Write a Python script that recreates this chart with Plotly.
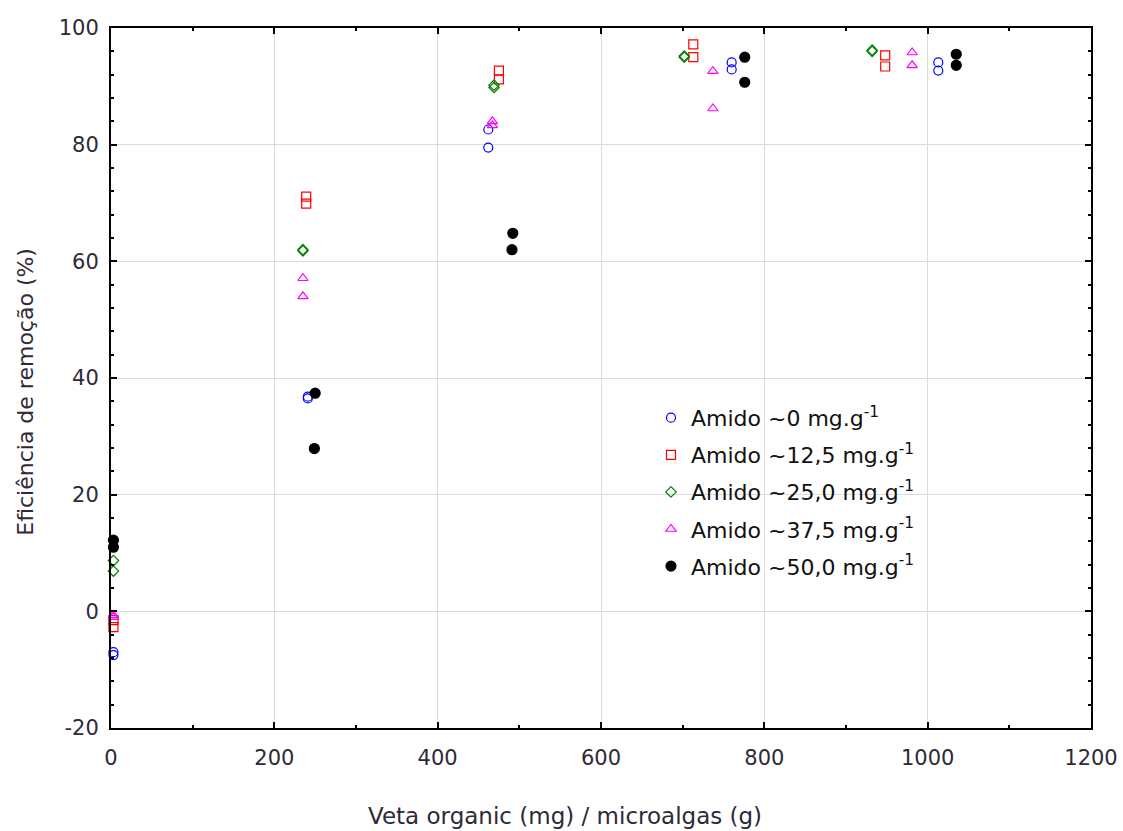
import plotly.graph_objects as go

# Veta organic load per gram of microalgae (mg/g) and removal efficiency (%)
series_names = [
    "Amido ~0 mg.g<sup>-1</sup>",
    "Amido ~12,5 mg.g<sup>-1</sup>",
    "Amido ~25,0 mg.g<sup>-1</sup>",
    "Amido ~37,5 mg.g<sup>-1</sup>",
    "Amido ~50,0 mg.g<sup>-1</sup>",
]

x_amido_0 = [3, 3, 241, 241, 462, 462, 760, 760, 1013, 1013]
y_amido_0 = [-7.5, -7.0, 36.5, 36.8, 82.6, 79.5, 94.1, 92.9, 94.1, 92.7]

x_amido_12 = [3, 3, 239, 239, 475, 475, 713, 713, 948, 948]
y_amido_12 = [-1.5, -2.7, 71.1, 69.9, 92.7, 91.2, 97.2, 95.0, 95.3, 93.4]

x_amido_25 = [3, 3, 235, 235, 469, 469, 702, 702, 932, 932]
y_amido_25 = [8.7, 6.9, 62.0, 61.8, 89.8, 90.2, 95.0, 95.2, 96.2, 96.0]

x_amido_37 = [3, 3, 235, 235, 467, 467, 737, 737, 981, 981]
y_amido_37 = [-0.7, -1.0, 57.1, 54.0, 83.3, 84.0, 92.6, 86.2, 95.8, 93.6]

x_amido_50 = [3, 3, 250, 249, 492, 491, 776, 776, 1035, 1035]
y_amido_50 = [12.2, 11.0, 37.4, 27.9, 64.8, 62.0, 95.0, 90.7, 95.5, 93.6]

x_ticks = [0, 200, 400, 600, 800, 1000, 1200]
y_ticks = [-20, 0, 20, 40, 60, 80, 100]

x_title = "Veta organic (mg) / microalgas (g)"
y_title = "Eficiência de remoção (%)"

styles = [
    dict(symbol="circle-open", color="#0000ff", size=9),
    dict(symbol="square-open", color="#ff0000", size=9),
    dict(symbol="diamond-open", color="#008000", size=8),
    dict(symbol="triangle-up-open", color="#ff00ff", size=9),
    dict(symbol="circle", color="#000000", size=10),
]

xs = [x_amido_0, x_amido_12, x_amido_25, x_amido_37, x_amido_50]
ys = [y_amido_0, y_amido_12, y_amido_25, y_amido_37, y_amido_50]

fig = go.Figure()
for i, (name, x, y, st) in enumerate(zip(series_names, xs, ys, styles)):
    fig.add_trace(go.Scatter(
        x=x, y=y, mode="markers", name=name, cliponaxis=False,
        legendgroup=f"g{i}",
        marker=dict(symbol=st["symbol"], size=st["size"], color=st["color"],
                    line=dict(color=st["color"], width=1.2)),
    ))

font_family = "DejaVu Sans, Verdana, sans-serif"
tick_color = "#2e2a38"

axis_common = dict(
    showline=True, linecolor="#000000", linewidth=2, mirror="ticks",
    showgrid=True, gridcolor="#dcdcdc", gridwidth=1, zeroline=False,
    ticks="inside", ticklen=6, tickwidth=2, tickcolor="#000000",
    tickfont=dict(family=font_family, size=21, color=tick_color),
    automargin=False,
)

fig.update_xaxes(
    range=[0, 1200], tickvals=x_ticks, ticktext=[str(v) for v in x_ticks],
    ticklabelstandoff=10,
    minor=dict(dtick=100, ticks="inside", ticklen=3, tickwidth=2,
               tickcolor="#000000", showgrid=False),
    **axis_common,
)
fig.update_yaxes(
    range=[-20, 100], tickvals=y_ticks, ticktext=[str(v) for v in y_ticks],
    ticklabelstandoff=6,
    minor=dict(dtick=4, tick0=0, ticks="inside", ticklen=3, tickwidth=2,
               tickcolor="#000000", showgrid=False),
    **axis_common,
)

# Axis titles placed as paper-anchored annotations
fig.add_annotation(
    text=x_title, xref="paper", yref="paper", x=0.463, y=-0.125,
    xanchor="center", yanchor="middle", showarrow=False,
    font=dict(family=font_family, size=23, color=tick_color),
)
fig.add_annotation(
    text=y_title, xref="paper", yref="paper", x=-0.088, y=0.48,
    xanchor="center", yanchor="middle", showarrow=False, textangle=-90,
    font=dict(family=font_family, size=22, color=tick_color),
)

fig.update_layout(
    width=1123, height=831,
    margin=dict(l=111, r=32, t=28, b=103),
    paper_bgcolor="white", plot_bgcolor="white",
    showlegend=True,
    legend=dict(
        x=0.551, y=0.473, xanchor="left", yanchor="top",
        bgcolor="rgba(0,0,0,0)", borderwidth=0,
        font=dict(family=font_family, size=22, color="#111111"),
        itemwidth=30, tracegroupgap=5.5,
    ),
)

fig.write_html("out.html")
